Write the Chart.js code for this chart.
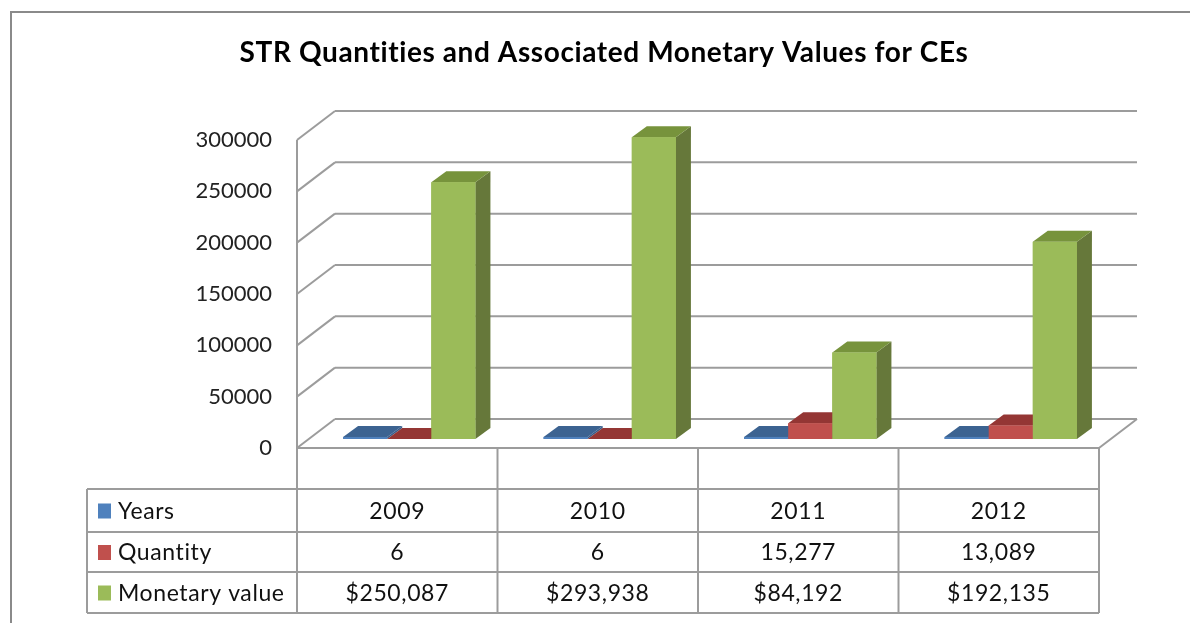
<!DOCTYPE html>
<html lang="en">
<head>
    <meta charset="UTF-8">
    <title>STR Quantities and Associated Monetary Values for CEs</title>
    <script src="https://cdn.jsdelivr.net/npm/chart.js"></script>
    <style>
        html, body { margin: 0; padding: 0; background: #fff; }
        #wrap { width: 1190px; height: 623px; position: relative; }
    </style>
</head>
<body>
    <div id="wrap"><canvas id="myChart"></canvas></div>

    <script>
        // data
        const years = ['2009', '2010', '2011', '2012'];
        const yearValues = [2009, 2010, 2011, 2012];
        const quantity = [6, 6, 15277, 13089];
        const monetary = [250087, 293938, 84192, 192135];
        const seriesNames = ['Years', 'Quantity', 'Monetary value'];
        const yMax = 300000;
        const yStep = 50000;

        // face colours: front, side, top
        const faces = [
            ['#4F81BD', '#385D8A', '#3C6391'],
            ['#C0504D', '#8C3836', '#943634'],
            ['#9BBB59', '#66783A', '#77933C']
        ];

        const gridColor = '#9c9c9c';
        const FRONT = { dx: -12, dy: 9 };   // front edge of floor, relative to bar plane
        const BACK = { dx: 26, dy: -20 };   // back wall
        const DEPTH = { dx: 15, dy: -11 };  // bar depth

        function line(ctx, x1, y1, x2, y2) {
            ctx.beginPath();
            ctx.moveTo(x1, y1);
            ctx.lineTo(x2, y2);
            ctx.stroke();
        }

        const chart3d = {
            id: 'chart3d',
            beforeDatasetsDraw(chart) {
                const ctx = chart.ctx;
                const xs = chart.scales.x;
                const ys = chart.scales.y;
                const area = chart.chartArea;
                ctx.save();

                // outer border
                ctx.strokeStyle = '#8a8a8a';
                ctx.lineWidth = 2;
                ctx.strokeRect(11, 12, 1400, 800);

                // title
                ctx.fillStyle = '#000';
                ctx.font = 'bold 28px Lato';
                ctx.letterSpacing = '0.6px';
                ctx.textAlign = 'center';
                ctx.textBaseline = 'middle';
                ctx.fillText('STR Quantities and Associated Monetary Values for CEs', 604, 53);
                ctx.letterSpacing = '0px';

                // walls
                ctx.strokeStyle = gridColor;
                ctx.lineWidth = 2;
                const fl = area.left + FRONT.dx, fr = area.right + FRONT.dx;
                const bl = area.left + BACK.dx, br = area.right + BACK.dx;
                ctx.font = '22px Lato';
                ctx.textAlign = 'right';
                ys.ticks.forEach(t => {
                    const y = ys.getPixelForValue(t.value);
                    line(ctx, bl, y + BACK.dy, br, y + BACK.dy);
                    line(ctx, fl, y + FRONT.dy, bl, y + BACK.dy);
                    ctx.fillStyle = '#222';
                    ctx.fillText(String(t.value), 272, y + FRONT.dy);
                });
                const y0 = ys.getPixelForValue(0);
                const yTop = ys.getPixelForValue(yMax);
                line(ctx, fl, yTop + FRONT.dy, fl, y0 + FRONT.dy);
                // floor
                line(ctx, fl, y0 + FRONT.dy, fr, y0 + FRONT.dy);
                line(ctx, fr, y0 + FRONT.dy, br, y0 + BACK.dy);

                // data table
                const tTop = y0 + FRONT.dy;
                const rows = [489, 532, 572, 613];
                const tLeft = 87;
                const edges = [];
                for (let i = 0; i <= years.length; i++) {
                    edges.push(xs.left + FRONT.dx + (xs.width / years.length) * i);
                }
                edges.forEach(x => line(ctx, x, tTop, x, rows[3]));
                line(ctx, tLeft, rows[0], tLeft, rows[3]);
                rows.forEach(y => line(ctx, tLeft, y, fr, y));

                const rowText = [
                    yearValues.map(v => String(v)),
                    quantity.map(v => v.toLocaleString('en-US')),
                    monetary.map(v => '$' + v.toLocaleString('en-US'))
                ];
                ctx.font = '23px Lato';
                ctx.letterSpacing = '0.6px';
                for (let r = 0; r < 3; r++) {
                    const cy = (rows[r] + rows[r + 1]) / 2 + 1;
                    ctx.fillStyle = faces[r][0];
                    ctx.fillRect(98, cy - 8, 13, 15);
                    ctx.fillStyle = '#111';
                    ctx.textAlign = 'left';
                    ctx.fillText(seriesNames[r], 118, cy);
                    ctx.textAlign = 'center';
                    rowText[r].forEach((txt, c) => {
                        ctx.fillText(txt, (edges[c] + edges[c + 1]) / 2, cy);
                    });
                }
                ctx.restore();
            },
            afterDatasetsDraw(chart) {
                const ctx = chart.ctx;
                ctx.save();
                for (let j = 0; j < years.length; j++) {
                    for (let d = 0; d < chart.data.datasets.length; d++) {
                        const el = chart.getDatasetMeta(d).data[j];
                        const p = el.getProps(['x', 'y', 'base', 'width'], true);
                        const l = p.x - p.width / 2, r = p.x + p.width / 2;
                        const [front, side, top] = faces[d];
                        // side
                        ctx.fillStyle = side;
                        ctx.beginPath();
                        ctx.moveTo(r, p.y);
                        ctx.lineTo(r + DEPTH.dx, p.y + DEPTH.dy);
                        ctx.lineTo(r + DEPTH.dx, p.base + DEPTH.dy);
                        ctx.lineTo(r, p.base);
                        ctx.closePath();
                        ctx.fill();
                        // top
                        ctx.fillStyle = top;
                        ctx.beginPath();
                        ctx.moveTo(l, p.y);
                        ctx.lineTo(l + DEPTH.dx, p.y + DEPTH.dy);
                        ctx.lineTo(r + DEPTH.dx, p.y + DEPTH.dy);
                        ctx.lineTo(r, p.y);
                        ctx.closePath();
                        ctx.fill();
                        // front
                        ctx.fillStyle = front;
                        ctx.fillRect(l, p.y, p.width, p.base - p.y);
                    }
                }
                ctx.restore();
            }
        };

        const ctx = document.getElementById('myChart').getContext('2d');
        const chart = new Chart(ctx, {
            type: 'bar',
            data: {
                labels: years,
                datasets: [
                    { label: seriesNames[0], data: yearValues, backgroundColor: faces[0][0] },
                    { label: seriesNames[1], data: quantity, backgroundColor: faces[1][0] },
                    { label: seriesNames[2], data: monetary, backgroundColor: faces[2][0] }
                ]
            },
            options: {
                responsive: true,
                maintainAspectRatio: false,
                animation: false,
                layout: { padding: { left: 309, right: 79, top: 131, bottom: 184 } },
                datasets: { bar: { categoryPercentage: 0.66, barPercentage: 1, borderWidth: 0 } },
                scales: {
                    x: { display: false },
                    y: { display: false, min: 0, max: yMax, ticks: { stepSize: yStep } }
                },
                plugins: {
                    legend: { display: false },
                    title: { display: false },
                    tooltip: { enabled: false }
                }
            },
            plugins: [chart3d]
        });
    </script>
</body>
</html>
